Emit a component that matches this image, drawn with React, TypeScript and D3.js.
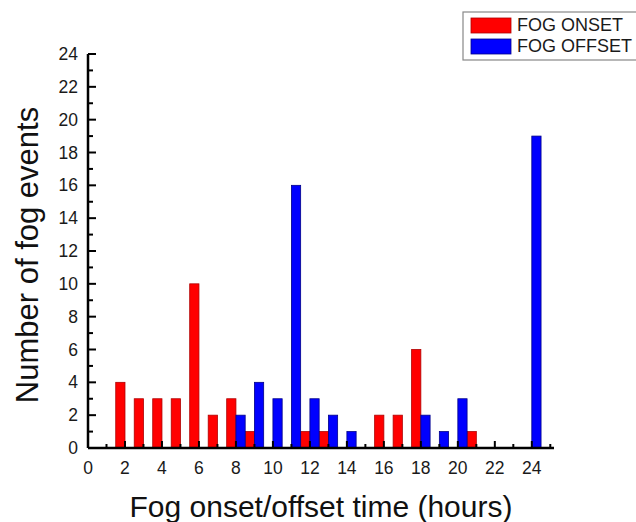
import React from "react";
import * as d3 from "d3";

const hours = [1,2,3,4,5,6,7,8,9,10,11,12,13,14,15,16,17,18,19,20,21,22,23,24];
const onset = [0,4,3,3,3,10,2,3,1,0,0,1,1,0,0,2,2,6,0,0,1,0,0,0];
const offset = [0,0,0,0,0,0,0,2,4,3,16,3,2,1,0,0,0,2,1,3,0,0,0,19];
const xTicks = [0,2,4,6,8,10,12,14,16,18,20,22,24];
const yTicks = [0,2,4,6,8,10,12,14,16,18,20,22,24];
const seriesNames = ["FOG ONSET", "FOG OFFSET"];

const W = 636, H = 522;
const x = d3.scaleLinear().domain([0, 25.2]).range([88, 554]);
const y = d3.scaleLinear().domain([0, 24]).range([448, 54]);
const font = "Arial, 'Liberation Sans', Helvetica, sans-serif";
const half = 0.5;

export default function App() {
  const minorX = d3.range(0, 26, 1);
  const minorY = d3.range(0, 25, 1);
  return (
    <svg width={W} height={H} style={{ position: "absolute", left: 0, top: 0 }} fontFamily={font}>
      <rect width={W} height={H} fill="#fff" />
      {hours.map((h, i) =>
        onset[i] > 0 ? (
          <rect key={"o" + h} x={x(h - half)} y={y(onset[i])} width={x(h) - x(h - half)} height={y(0) - y(onset[i])}
            fill="#ff0000" stroke="#b00000" strokeWidth={0.8} />
        ) : null
      )}
      {hours.map((h, i) =>
        offset[i] > 0 ? (
          <rect key={"f" + h} x={x(h)} y={y(offset[i])} width={x(h + half) - x(h)} height={y(0) - y(offset[i])}
            fill="#0000ff" stroke="#00008a" strokeWidth={0.8} />
        ) : null
      )}
      <line x1={x(0)} x2={x(25.2)} y1={y(0)} y2={y(0)} stroke="#000" strokeWidth={2.5} />
      <line x1={x(0)} x2={x(0)} y1={y(0)} y2={y(24)} stroke="#000" strokeWidth={2.5} />
      {minorX.map((v) => (
        <line key={"xt" + v} x1={x(v)} x2={x(v)} y1={y(0)} y2={y(0) - (v % 2 === 0 ? 7 : 4)} stroke="#000" strokeWidth={2} />
      ))}
      {minorY.map((v) => (
        <line key={"yt" + v} x1={x(0)} x2={x(0) + (v % 2 === 0 ? 8 : 5)} y1={y(v)} y2={y(v)} stroke="#000" strokeWidth={2} />
      ))}
      {xTicks.map((v) => (
        <text key={"xl" + v} x={x(v)} y={y(0) + 26} textAnchor="middle" fontSize={17.5} fill="#1a1a1a">{v}</text>
      ))}
      {yTicks.map((v) => (
        <text key={"yl" + v} x={x(0) - 10} y={y(v) + 6} textAnchor="end" fontSize={17.5} fill="#1a1a1a">{v}</text>
      ))}
      <text x={321} y={517} textAnchor="middle" fontSize={30} fill="#111">Fog onset/offset time (hours)</text>
      <text transform={`translate(38,${255}) rotate(-90)`} textAnchor="middle" fontSize={31} fill="#111">Number of fog events</text>
      <rect x={463} y={12} width={190} height={48} fill="#fff" stroke="#888" strokeWidth={1.2} />
      <rect x={471} y={18} width={40} height={15} fill="#ff0000" stroke="#b00000" strokeWidth={0.8} />
      <rect x={471} y={39} width={40} height={15} fill="#0000ff" stroke="#00008a" strokeWidth={0.8} />
      <text x={517} y={31} fontSize={18} fill="#1a1a1a">{seriesNames[0]}</text>
      <text x={517} y={52} fontSize={18} fill="#1a1a1a">{seriesNames[1]}</text>
    </svg>
  );
}
